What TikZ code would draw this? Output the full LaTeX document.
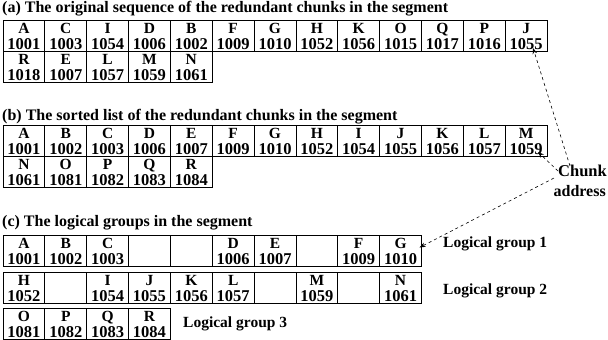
\documentclass[tikz,border=0pt]{standalone}
\usepackage{fontspec}
\setmainfont{Liberation Serif}
\usetikzlibrary{arrows.meta,calc}
\newcommand\chunkcell[5]{%
  \node[cellbox] (#1) at ({#2},{#3}) {};
  \node[lettxt] (#1l) at ($(#1.north)+(0,13)$) {#4};
  \node[numtxt] (#1n) at ($(#1.north)+(0,29)$) {#5};
}
\begin{document}
\begin{tikzpicture}[x=1pt,y=-1pt,
 cellbox/.style={draw,line width=0.9pt,minimum width=41.85pt,minimum height=31pt,inner sep=0pt,outer sep=0pt,anchor=north west},
 lettxt/.style={anchor=base,inner sep=0pt,font=\fontsize{15.5}{16}\selectfont\bfseries},
 numtxt/.style={anchor=base,inner sep=0pt,font=\fontsize{16.5}{17}\selectfont\bfseries},
 ttl/.style={anchor=west,inner sep=0pt,font=\fontsize{16}{16}\selectfont\bfseries},
 lbl/.style={inner sep=0pt,font=\fontsize{15.5}{17}\selectfont\bfseries},
 ptr/.style={dashed,-{Stealth[length=6pt,width=4.5pt]},line width=0.6pt}]
\useasboundingbox (0,0) rectangle (608,340);
% titles
\node[ttl] (ta) at (2,9) {(a) The original sequence of the redundant chunks in the segment};
\node[ttl] (tb) at (2,117) {(b) The sorted list of the redundant chunks in the segment};
\node[ttl] (tc) at (2,223) {(c) The logical groups in the segment};
% (a)
\foreach \l/\n [count=\i] in {A/1001,C/1003,I/1054,D/1006,B/1002,F/1009,G/1010,H/1052,K/1056,O/1015,Q/1017,P/1016,J/1055}
  {\chunkcell{a\i}{3+(\i-1)*41.85}{20}{\l}{\n}}
\foreach \l/\n [count=\i from 14] in {R/1018,E/1007,L/1057,M/1059,N/1061}
  {\chunkcell{a\i}{3+(\i-14)*41.85}{51}{\l}{\n}}
% (b)
\foreach \l/\n [count=\i] in {A/1001,B/1002,C/1003,D/1006,E/1007,F/1009,G/1010,H/1052,I/1054,J/1055,K/1056,L/1057,M/1059}
  {\chunkcell{b\i}{3+(\i-1)*41.85}{125}{\l}{\n}}
\foreach \l/\n [count=\i from 14] in {N/1061,O/1081,P/1082,Q/1083,R/1084}
  {\chunkcell{b\i}{3+(\i-14)*41.85}{156}{\l}{\n}}
% (c)
\foreach \l/\n [count=\i] in {A/1001,B/1002,C/1003,{}/{},{}/{},D/1006,E/1007,{}/{},F/1009,G/1010}
  {\chunkcell{c\i}{3+(\i-1)*41.85}{235}{\l}{\n}}
\foreach \l/\n [count=\i] in {H/1052,{}/{},I/1054,J/1055,K/1056,L/1057,{}/{},M/1059,{}/{},N/1061}
  {\chunkcell{d\i}{3+(\i-1)*41.85}{272}{\l}{\n}}
\foreach \l/\n [count=\i] in {O/1081,P/1082,Q/1083,R/1084}
  {\chunkcell{e\i}{3+(\i-1)*41.85}{308}{\l}{\n}}
% group labels
\node[lbl,anchor=west] (g1) at (443,244) {Logical group 1};
\node[lbl,anchor=west] (g2) at (443,291) {Logical group 2};
\node[lbl,anchor=west] (g3) at (183,324) {Logical group 3};
% chunk address
\node[lbl,anchor=east,font=\fontsize{16.5}{17}\selectfont\bfseries] (chunk) at (607,171) {Chunk};
\node[lbl,anchor=east,font=\fontsize{16}{17}\selectfont\bfseries] (addr) at (606,191) {address};
\draw[ptr] ($(chunk.north west)+(12,1)$) -- ($(a13.south east)+(-14,-3)$);
\draw[ptr] (chunk.west) -- ($(b13.south east)+(-9,-4)$);
\draw[ptr] ($(chunk.south west)+(-4,1)$) -- ($(c10.east)+(-2,-3)$);
\end{tikzpicture}
\end{document}
